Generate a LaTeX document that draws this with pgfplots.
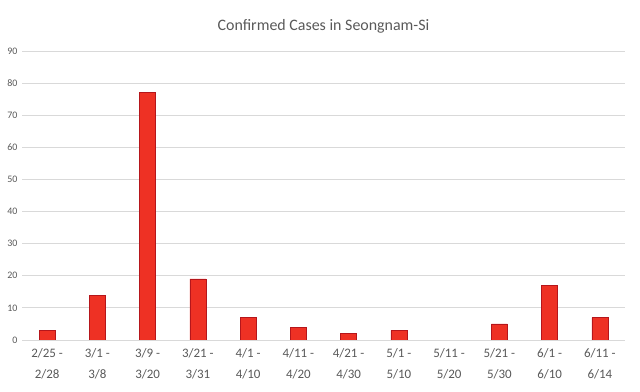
\documentclass[border=0pt]{standalone}
\usepackage{pgfplots}
\pgfplotsset{compat=1.18}
\usepackage{fontspec}
\setmainfont{Carlito}
\definecolor{barred}{HTML}{EE3124}
\definecolor{baredge}{HTML}{B5161B}
\definecolor{txt}{HTML}{595959}
\definecolor{gridc}{HTML}{D9D9D9}

\begin{document}
\begin{tikzpicture}
\useasboundingbox (-22bp,-52bp) rectangle (618bp,340bp);
\begin{axis}[
    at={(0,0)}, anchor=south west,
    scale only axis,
    width=603bp, height=289bp,
    xmin=-0.5, xmax=11.5,
    ymin=0, ymax=90,
    ytick={0,10,...,90},
    xtick={0,...,11},
    xticklabels={{2/25 -\\2/28},{3/1 -\\3/8},{3/9 -\\3/20},{3/21 -\\3/31},{4/1 -\\4/10},{4/11 -\\4/20},{4/21 -\\4/30},{5/1 -\\5/10},{5/11 -\\5/20},{5/21 -\\5/30},{6/1 -\\6/10},{6/11 -\\6/14}},
    xticklabel style={align=center, font=\fontsize{13}{21}\selectfont, text=txt, yshift=-5bp},
    yticklabel style={font=\fontsize{10}{11}\selectfont, text=txt, xshift=-1bp},
    /pgf/number format/assume math mode=true,
    ymajorgrids=true,
    grid style={gridc, line width=0.9pt},
    axis line style={draw=none},
    axis x line*=bottom,
    x axis line style={gridc, line width=0.9pt},
    major tick length=0pt,
    title={Confirmed Cases in Seongnam-Si},
    title style={font=\fontsize{16}{18}\selectfont, text=txt, yshift=8bp},
    ybar, bar width=16bp,
]
% 5/11 - 5/20 has no cases (no bar drawn)
\addplot[fill=barred, draw=baredge, line width=0.6pt] coordinates {
    (0,3) (1,14) (2,77) (3,19) (4,7) (5,4) (6,2) (7,3) (9,5) (10,17) (11,7)
};
\end{axis}
\end{tikzpicture}
\end{document}
